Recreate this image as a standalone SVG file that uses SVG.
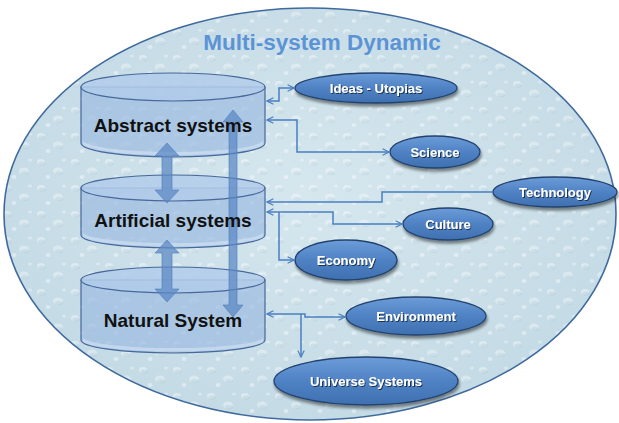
<svg xmlns="http://www.w3.org/2000/svg" width="619" height="423" viewBox="0 0 619 423">
  <defs>
    <style>
      .title { font-family: "Liberation Sans", Arial, sans-serif; font-weight: bold; font-size: 22.5px; fill: #5b93d6; }
      .cyl-body { fill: #98b8e0; fill-opacity: 0.65; stroke: #46689a; stroke-width: 1.2; }
      .cyl-top { fill: #b1cbea; fill-opacity: 0.85; stroke: #46689a; stroke-width: 1.2; }
      .cyl-shine { fill: #d8e6f5; fill-opacity: 0.55; }
      .cyl-label { font-family: "Liberation Sans", Arial, sans-serif; font-weight: bold; font-size: 19px; fill: #111; text-anchor: middle; }
      .node-shape { fill: url(#nodeFill); stroke: #23436e; stroke-width: 1.3; filter: url(#shadow); }
      .node-label { font-family: "Liberation Sans", Arial, sans-serif; font-weight: bold; font-size: 13px; fill: #ffffff; text-anchor: middle; filter: url(#textShadow); }
      .link { fill: none; stroke: #4a7fc0; stroke-width: 1.5; }
      .fat { fill: #5a87c4; fill-opacity: 0.72; stroke: #4f7cb8; stroke-opacity: 0.6; stroke-width: 1; }
    </style>
    <linearGradient id="nodeFill" x1="0" y1="0" x2="0" y2="1">
      <stop offset="0" stop-color="#6c9cd8"/>
      <stop offset="0.5" stop-color="#4f82c4"/>
      <stop offset="1" stop-color="#3f70b0"/>
    </linearGradient>
    <radialGradient id="bgFill" cx="0.5" cy="0.45" r="0.6">
      <stop offset="0" stop-color="#d6e7ee"/>
      <stop offset="1" stop-color="#c2d9e4"/>
    </radialGradient>
    <pattern id="drops" width="34" height="26" patternUnits="userSpaceOnUse">
      <ellipse cx="7" cy="6" rx="4" ry="3" fill="#ffffff" fill-opacity="0.4"/>
      <ellipse cx="8" cy="7.5" rx="3.5" ry="2" fill="#9abaca" fill-opacity="0.28"/>
      <ellipse cx="24" cy="15" rx="5" ry="3.5" fill="#ffffff" fill-opacity="0.35"/>
      <ellipse cx="25" cy="17" rx="4" ry="2" fill="#9abaca" fill-opacity="0.25"/>
      <ellipse cx="14" cy="21" rx="2.5" ry="2" fill="#ffffff" fill-opacity="0.4"/>
      <ellipse cx="30" cy="4" rx="2" ry="1.6" fill="#ffffff" fill-opacity="0.35"/>
    </pattern>
    <filter id="shadow" x="-20%" y="-30%" width="140%" height="170%">
      <feGaussianBlur in="SourceAlpha" stdDeviation="1.5"/>
      <feOffset dx="1" dy="2.5" result="b"/>
      <feComponentTransfer><feFuncA type="linear" slope="0.45"/></feComponentTransfer>
      <feMerge><feMergeNode/><feMergeNode in="SourceGraphic"/></feMerge>
    </filter>
    <filter id="textShadow" x="-10%" y="-30%" width="120%" height="160%">
      <feGaussianBlur in="SourceAlpha" stdDeviation="0.6"/>
      <feOffset dx="0.8" dy="0.8"/>
      <feComponentTransfer><feFuncA type="linear" slope="0.6"/></feComponentTransfer>
      <feMerge><feMergeNode/><feMergeNode in="SourceGraphic"/></feMerge>
    </filter>
    <marker id="open" viewBox="0 0 10 10" refX="9" refY="5" markerWidth="8" markerHeight="8" orient="auto-start-reverse" markerUnits="userSpaceOnUse">
      <path d="M1,1 L9,5 L1,9" fill="none" stroke="#4a7fc0" stroke-width="1.5"/>
    </marker>
  </defs>

  <!-- backdrop -->
  <g id="frame">
    <ellipse cx="310" cy="214" rx="306" ry="206" fill="url(#bgFill)"/>
    <ellipse cx="310" cy="214" rx="306" ry="206" fill="url(#drops)"/>
    <ellipse cx="310" cy="214" rx="306" ry="206" fill="none" stroke="#3f6a9e" stroke-width="1.6"/>
    <text class="title" x="322" y="50" text-anchor="middle">Multi-system Dynamic</text>
  </g>

  <!-- stacked system layers -->
  <g id="abstract">
    <path class="cyl-body" d="M81,87 V143 A92,14 0 0 0 265,143 V87 Z"/>
    <path class="cyl-shine" d="M83,140 A90,12 0 0 0 263,140 L263,145 A92,13 0 0 1 83,145 Z"/>
    <ellipse class="cyl-top" cx="173" cy="87" rx="92" ry="14"/>
  </g>
  <g id="artificial">
    <path class="cyl-body" d="M81,188 V235 A92,13 0 0 0 265,235 V188 Z"/>
    <path class="cyl-shine" d="M83,232 A90,11 0 0 0 263,232 L263,237 A92,12 0 0 1 83,237 Z"/>
    <ellipse class="cyl-top" cx="173" cy="188" rx="92" ry="13"/>
  </g>
  <g id="natural">
    <path class="cyl-body" d="M81,280 V340 A92,13 0 0 0 265,340 V280 Z"/>
    <path class="cyl-shine" d="M83,337 A90,11 0 0 0 263,337 L263,342 A92,12 0 0 1 83,342 Z"/>
    <ellipse class="cyl-top" cx="173" cy="280" rx="92" ry="13"/>
  </g>

  <!-- outer concepts -->
  <g id="ideas">
    <ellipse class="node-shape" cx="376" cy="88" rx="81" ry="15"/>
    <text class="node-label" x="376" y="92.5">Ideas - Utopias</text>
  </g>
  <g id="science">
    <ellipse class="node-shape" cx="435" cy="152" rx="45" ry="16"/>
    <text class="node-label" x="435" y="156.5">Science</text>
  </g>
  <g id="technology">
    <ellipse class="node-shape" cx="555" cy="192" rx="62" ry="15"/>
    <text class="node-label" x="555" y="196.5">Technology</text>
  </g>
  <g id="culture">
    <ellipse class="node-shape" cx="448" cy="224" rx="45" ry="16"/>
    <text class="node-label" x="448" y="228.5">Culture</text>
  </g>
  <g id="economy">
    <ellipse class="node-shape" cx="346" cy="260" rx="51" ry="20"/>
    <text class="node-label" x="346" y="264.5">Economy</text>
  </g>
  <g id="environment">
    <ellipse class="node-shape" cx="416" cy="316" rx="70" ry="19"/>
    <text class="node-label" x="416" y="320.5">Environment</text>
  </g>
  <g id="universe">
    <ellipse class="node-shape" cx="366" cy="381" rx="92" ry="24"/>
    <text class="node-label" x="366" y="385.5">Universe Systems</text>
  </g>

  <!-- connectors -->
  <g id="connectors">
    <!-- thick exchange arrows between layers -->
    <path class="fat" d="M167,143 L179,156 L172,156 L172,190 L179,190 L167,203 L155,190 L162,190 L162,156 L155,156 Z"/>
    <path class="fat" d="M167,240 L179,253 L172,253 L172,289 L179,289 L167,302 L155,289 L162,289 L162,253 L155,253 Z"/>
    <path class="fat" d="M233,110 L243,122 L237,122 L237,305 L243,305 L233,317 L223,305 L229,305 L229,122 L223,122 Z"/>

    <!-- thin links to outer concepts -->
    <path class="link" d="M267,101 H279 V88 H294" marker-start="url(#open)" marker-end="url(#open)"/>
    <path class="link" d="M267,120 H297 V152 H389" marker-start="url(#open)" marker-end="url(#open)"/>
    <path class="link" d="M267,202 H382 V192 H493" marker-start="url(#open)"/>
    <path class="link" d="M267,212 H333 V224 H402" marker-start="url(#open)" marker-end="url(#open)"/>
    <path class="link" d="M279,212 V260 H294" marker-end="url(#open)"/>
    <path class="link" d="M267,314 H305 V317 H345" marker-start="url(#open)" marker-end="url(#open)"/>
    <path class="link" d="M301,314 V357" marker-end="url(#open)"/>
  </g>

  <!-- layer labels -->
  <g id="layer-labels">
    <text class="cyl-label" x="173" y="132">Abstract systems</text>
    <text class="cyl-label" x="173" y="227">Artificial systems</text>
    <text class="cyl-label" x="173" y="327">Natural System</text>
  </g>
</svg>
